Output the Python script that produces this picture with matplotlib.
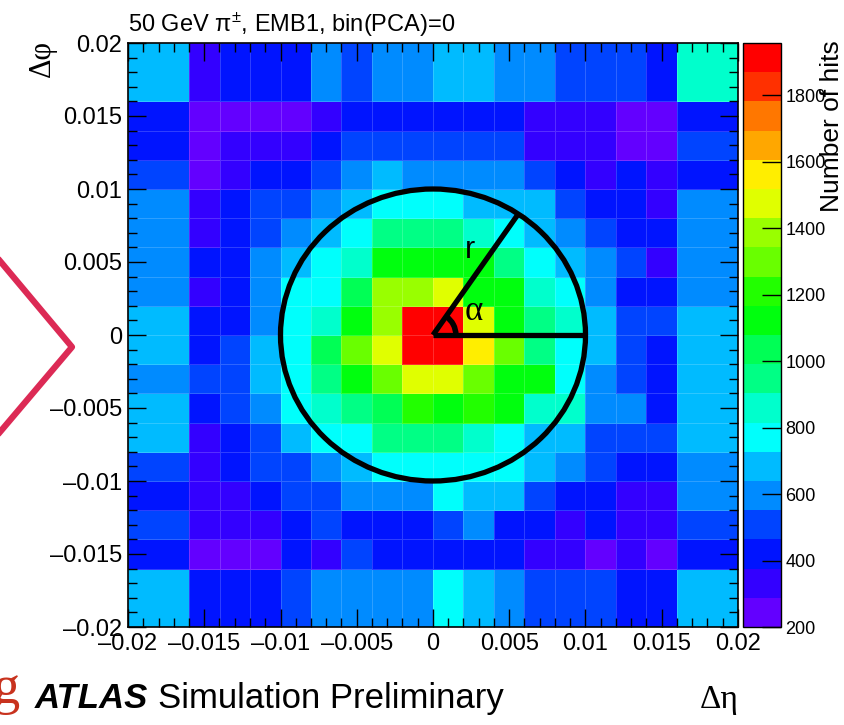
import colorsys
import numpy as np
import matplotlib
matplotlib.use("Agg")
import matplotlib.pyplot as plt
from matplotlib.colors import ListedColormap, BoundaryNorm
from matplotlib.patches import Circle, Arc
from matplotlib.lines import Line2D
from matplotlib.ticker import MultipleLocator

plt.rcParams['font.family'] = ['Liberation Sans', 'DejaVu Sans']
plt.rcParams['mathtext.default'] = 'regular'

# Bin edges (outer bins are twice as wide)
eta_edges = [-0.02, -0.016, -0.014, -0.012, -0.01, -0.008, -0.006, -0.004, -0.002, 0.0,
             0.002, 0.004, 0.006, 0.008, 0.01, 0.012, 0.014, 0.016, 0.02]
phi_edges = [-0.02, -0.016, -0.014, -0.012, -0.01, -0.008, -0.006, -0.004, -0.002, 0.0,
             0.002, 0.004, 0.006, 0.008, 0.01, 0.012, 0.014, 0.016, 0.02]

# Number of hits per cell, rows from top (dphi = 0.02) to bottom (dphi = -0.02)
hits = [
    [685, 330, 420, 420, 420, 595, 510, 595, 595, 685, 685, 595, 595, 510, 510, 510, 420, 860],
    [420, 245, 245, 245, 245, 330, 420, 420, 420, 420, 420, 420, 330, 330, 330, 245, 245, 420],
    [420, 245, 330, 330, 330, 420, 510, 510, 510, 510, 510, 510, 330, 330, 330, 245, 245, 510],
    [510, 245, 330, 420, 420, 510, 595, 685, 595, 595, 595, 595, 510, 420, 330, 420, 330, 420],
    [595, 330, 420, 510, 510, 595, 685, 770, 770, 770, 685, 685, 685, 510, 420, 420, 330, 595],
    [595, 330, 420, 510, 595, 685, 770, 945, 945, 945, 860, 770, 685, 595, 510, 420, 420, 595],
    [595, 420, 420, 595, 685, 770, 860, 1120, 1120, 1120, 1120, 945, 770, 685, 595, 510, 330, 595],
    [595, 330, 420, 595, 770, 770, 1035, 1385, 1385, 1475, 1120, 1120, 860, 770, 595, 420, 420, 595],
    [685, 420, 420, 595, 770, 860, 1120, 1385, 1930, 1950, 1475, 1120, 945, 860, 685, 510, 510, 685],
    [685, 420, 510, 685, 770, 1035, 1300, 1475, 1900, 1920, 1560, 1300, 945, 770, 685, 510, 420, 685],
    [595, 510, 510, 685, 770, 945, 1120, 1300, 1475, 1475, 1300, 1120, 1120, 770, 595, 510, 420, 685],
    [685, 420, 510, 595, 770, 860, 945, 1035, 1210, 1120, 1210, 1120, 860, 860, 595, 595, 420, 685],
    [685, 330, 420, 510, 685, 770, 770, 945, 945, 945, 860, 770, 685, 685, 510, 510, 510, 685],
    [510, 330, 420, 510, 510, 595, 685, 770, 770, 770, 770, 770, 685, 595, 510, 420, 420, 595],
    [420, 330, 330, 420, 510, 510, 595, 595, 595, 770, 685, 685, 510, 420, 420, 330, 330, 595],
    [510, 330, 330, 330, 420, 510, 420, 420, 420, 510, 595, 420, 420, 330, 420, 330, 330, 510],
    [420, 245, 245, 245, 420, 330, 510, 420, 420, 420, 420, 420, 330, 330, 245, 330, 245, 420],
    [685, 420, 420, 420, 510, 595, 595, 595, 595, 770, 685, 595, 510, 510, 510, 420, 420, 685],
]

z_min, z_max, n_levels = 200, 1957, 20

tick_vals = [-0.02, -0.015, -0.01, -0.005, 0.0, 0.005, 0.01, 0.015, 0.02]
tick_labels = ['\u20130.02', '\u20130.015', '\u20130.01', '\u20130.005', '0',
               '0.005', '0.01', '0.015', '0.02']
cbar_ticks = [200, 400, 600, 800, 1000, 1200, 1400, 1600, 1800]

# old ROOT "pretty" palette (50 hues violet -> red), sampled for 20 contours
palette = []
for k in range(n_levels):
    idx = int((k + 0.99) * 50 / n_levels)
    hue = 280 - (idx + 1) * 280 / 50
    palette.append(colorsys.hls_to_rgb(hue / 360.0, 0.5, 1.0))
cmap = ListedColormap(palette)
norm = BoundaryNorm(np.linspace(z_min, z_max, n_levels + 1), cmap.N)

W, H = 845, 725
fig = plt.figure(figsize=(W / 100, H / 100), dpi=100)
ax = fig.add_axes([128 / W, 1 - 627 / H, 610 / W, 584 / H])
cax = fig.add_axes([743 / W, 1 - 627 / H, 38 / W, 584 / H])

mesh = ax.pcolormesh(eta_edges, phi_edges, np.array(hits)[::-1], cmap=cmap, norm=norm,
                     edgecolors=(1, 1, 1, 0.18), linewidth=0.6)
ax.set_xlim(-0.02, 0.02)
ax.set_ylim(-0.02, 0.02)
ax.set_xticks(tick_vals)
ax.set_xticklabels(tick_labels)
ax.set_yticks(tick_vals)
ax.set_yticklabels(tick_labels)
ax.xaxis.set_minor_locator(MultipleLocator(0.001))
ax.yaxis.set_minor_locator(MultipleLocator(0.001))
ax.tick_params(which='both', direction='in', top=True, right=True, labelsize=17, pad=4)
ax.tick_params(which='major', length=13, width=1)
ax.tick_params(which='minor', length=6.5, width=1)
for s in ax.spines.values():
    s.set_linewidth(1.2)

# circle with radius and angle sketch
circle_r = 0.01
alpha_deg = 56
ax.add_patch(Circle((0, 0), circle_r, fill=False, ec='black', lw=3.8, zorder=5))
ax.plot([0, circle_r], [0, 0], color='black', lw=3.8, zorder=5, solid_capstyle='butt')
a = np.deg2rad(alpha_deg)
ax.plot([0, circle_r * np.cos(a)], [0, circle_r * np.sin(a)], color='black', lw=3.8,
        zorder=5, solid_capstyle='butt')
ax.add_patch(Arc((0, 0), 0.003, 0.0031, theta1=0, theta2=alpha_deg, color='black', lw=4, zorder=5))
ax.text(0.0027, 0.0016, '\u03b1', fontsize=25, family='Liberation Serif', ha='center', va='center', zorder=6)
ax.text(0.0024, 0.0058, 'r', fontsize=22, ha='center', va='center', zorder=6)

cb = fig.colorbar(mesh, cax=cax, ticks=cbar_ticks)
cb.outline.set_linewidth(1.0)
cb.dividers.set_color((1, 1, 1, 0.25))
cax.yaxis.set_ticks_position('right')
cax.tick_params(direction='in', length=14, width=1, labelsize=13, pad=3)
cax.minorticks_off()

# texts
fig.text(128 / W, 1 - 32 / H, r'50 GeV $\pi^{\pm}$, EMB1, bin(PCA)=0', fontsize=17, va='baseline')
fig.text(42 / W, 1 - 40 / H, '\u0394\u03c6', fontsize=22, family='Liberation Serif',
         rotation=90, ha='center', va='top')
fig.text(832 / W, 1 - 40 / H, 'Number of hits', fontsize=19, rotation=90, ha='center', va='top')
fig.text(35 / W, 1 - 708 / H, 'ATLAS', fontsize=25, weight='bold', style='italic', va='baseline')
fig.text(158 / W, 1 - 708 / H, 'Simulation Preliminary', fontsize=25, va='baseline')
fig.text(700 / W, 1 - 708 / H, '\u0394\u03b7', fontsize=24, family='Liberation Serif', va='baseline')

# slide decorations at the left edge
fig.add_artist(Line2D([0, 72 / W, 0], [1 - 261 / H, 1 - 347 / H, 1 - 432 / H],
                      color='#dc2a55', lw=4.5, transform=fig.transFigure))
fig.text(20 / W, 1 - 703 / H, 'g', fontsize=39, family='Liberation Serif', color='#c8321e',
         ha='right', va='baseline')

fig.savefig('out.png', dpi=100)
